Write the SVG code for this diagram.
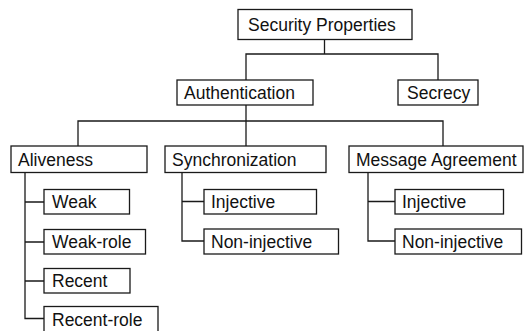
<svg xmlns="http://www.w3.org/2000/svg" width="524" height="331" viewBox="0 0 524 331">
<style>
rect{fill:#fff;stroke:#1a1a1a;stroke-width:1.3}
text{font-family:"Liberation Sans",Arial,sans-serif;font-size:17.5px;fill:#111}
.c path{fill:none;stroke:#1a1a1a;stroke-width:1.3}
</style>
<rect x="0" y="0" width="524" height="331" style="stroke:none"/>
<g class="c" id="connectors">
<path d="M324.5 39V54H246V80M246 54H438V80"/>
<path d="M246 105V121H78V146M246 121V146M246 121H443V146"/>
<path d="M25 172V318.5H44M25 202H44M25 242H44M25 281H44"/>
<path d="M182 172V241H204M182 201.5H204"/>
<path d="M368 172V241H395M368 201.5H395"/>
</g>
<g id="n-security"><rect x="238" y="9.5" width="174" height="30"/><text x="248" y="31">Security Properties</text></g>
<g id="n-auth"><rect x="177" y="80" width="136" height="25"/><text x="184" y="98.5">Authentication</text></g>
<g id="n-secrecy"><rect x="398" y="80" width="80" height="25"/><text x="407" y="98.5">Secrecy</text></g>
<g id="n-aliveness"><rect x="11" y="146" width="136" height="26.5"/><text x="18" y="165.5">Aliveness</text></g>
<g id="n-sync"><rect x="165" y="146" width="161" height="26.5"/><text x="172" y="165.5">Synchronization</text></g>
<g id="n-msg"><rect x="349" y="146" width="174" height="26.5"/><text x="356" y="165.5">Message Agreement</text></g>
<g id="n-weak"><rect x="44" y="189.5" width="85.5" height="24.5"/><text x="52" y="208">Weak</text></g>
<g id="n-weakrole"><rect x="44" y="229.5" width="101.5" height="24.5"/><text x="52" y="248">Weak-role</text></g>
<g id="n-recent"><rect x="44" y="268.5" width="86" height="24.5"/><text x="52" y="287">Recent</text></g>
<g id="n-recentrole"><rect x="44" y="306.5" width="114" height="26"/><text x="52" y="325.5">Recent-role</text></g>
<g id="n-sync-inj"><rect x="204" y="189.5" width="112.5" height="24.5"/><text x="211" y="208">Injective</text></g>
<g id="n-sync-noninj"><rect x="204" y="229" width="134.5" height="25"/><text x="211" y="248">Non-injective</text></g>
<g id="n-msg-inj"><rect x="395" y="189.5" width="108.5" height="24.5"/><text x="402" y="208">Injective</text></g>
<g id="n-msg-noninj"><rect x="395" y="229" width="126.5" height="25"/><text x="402" y="248">Non-injective</text></g>
</svg>
